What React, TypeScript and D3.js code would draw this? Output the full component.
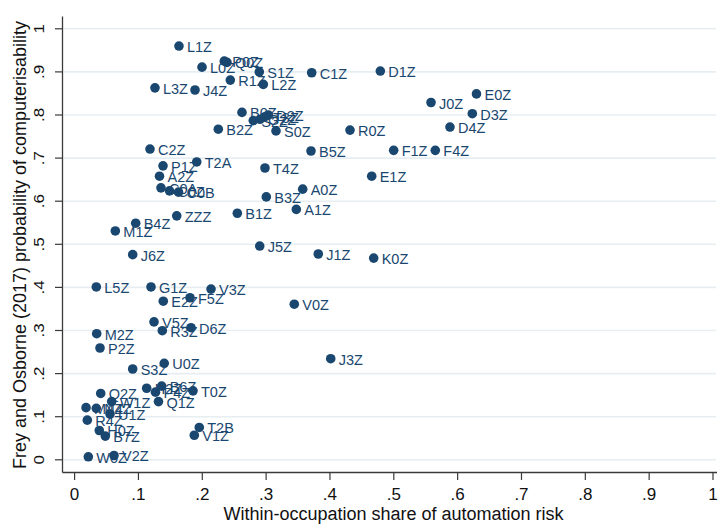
import React from "react";
import * as d3 from "d3";

const labels = [
  "L1Z","P0Z","Q0Z","L0Z","S1Z","C1Z","D1Z","R1Z","L2Z","L3Z","J4Z","E0Z","J0Z","D3Z","B0Z",
  "S2Z","G2Z","T3Z","D2Z","D4Z","B2Z","S0Z","R0Z","C2Z","B5Z","F1Z","F4Z","T2A","P1Z","T4Z",
  "E1Z","A2Z","C0A","C0Z","C0B","A0Z","B3Z","A1Z","B1Z","ZZZ","B4Z","M1Z","J5Z","J6Z","J1Z",
  "K0Z","L5Z","G1Z","V3Z","F5Z","E2Z","V0Z","V5Z","D6Z","R3Z","M2Z","P2Z","J3Z","U0Z","S3Z",
  "H2Z","B6Z","P4Z","T0Z","Q1Z","Q2Z","W1Z","M4Z","N4Z","U1Z","R4Z","H0Z","B7Z","T2B","V1Z",
  "W0Z","V2Z"
];
const xs = [
  0.1635,0.2345,0.2387,0.1996,0.2893,0.3714,0.4789,0.2439,0.2956,0.1259,0.1886,0.6295,0.5583,0.623,0.2622,
  0.2799,0.2904,0.2982,0.3034,0.588,0.2251,0.3155,0.4314,0.1181,0.3703,0.4998,0.565,0.1913,0.1385,0.2982,
  0.4654,0.133,0.1353,0.1487,0.1628,0.3573,0.3003,0.3473,0.2549,0.16,0.0957,0.0638,0.29,0.091,0.3817,
  0.4685,0.034,0.1197,0.2137,0.1808,0.1389,0.3441,0.1244,0.1823,0.1374,0.0346,0.0398,0.4012,0.1404,0.091,
  0.1129,0.1364,0.1267,0.1855,0.1314,0.0409,0.0581,0.0179,0.034,0.0555,0.0199,0.0387,0.0481,0.1953,0.1875,
  0.0215,0.0617
];
const ys = [
  0.960,0.925,0.922,0.911,0.900,0.898,0.902,0.881,0.871,0.863,0.858,0.849,0.829,0.803,0.806,
  0.787,0.790,0.796,0.800,0.772,0.767,0.763,0.765,0.721,0.7165,0.718,0.718,0.691,0.682,0.677,
  0.658,0.658,0.631,0.624,0.621,0.628,0.610,0.581,0.572,0.566,0.549,0.531,0.496,0.476,0.4775,
  0.468,0.401,0.401,0.396,0.376,0.368,0.361,0.320,0.3065,0.2995,0.2926,0.2594,0.2346,0.2239,0.2107,
  0.166,0.171,0.157,0.160,0.135,0.154,0.135,0.121,0.1195,0.106,0.092,0.068,0.055,0.075,0.057,
  0.007,0.010
];
const xTicks = [0, 0.1, 0.2, 0.3, 0.4, 0.5, 0.6, 0.7, 0.8, 0.9, 1];
const xTickLabels = ["0", ".1", ".2", ".3", ".4", ".5", ".6", ".7", ".8", ".9", "1"];
const yTicks = [0, 0.1, 0.2, 0.3, 0.4, 0.5, 0.6, 0.7, 0.8, 0.9, 1];
const yTickLabels = ["0", ".1", ".2", ".3", ".4", ".5", ".6", ".7", ".8", ".9", "1"];

const W = 718, H = 526;
const NAVY = "#1a476f";
const FONT = "'Liberation Sans', Arial, Helvetica, sans-serif";

export default function App() {
  const x = d3.scaleLinear().domain([0, 1]).range([74.6, 713]);
  const y = d3.scaleLinear().domain([0, 1]).range([459.8, 28.8]);
  const axisX = 62.5, axisY = 472.5;
  const pts = labels.map((l, i) => ({ l, cx: x(xs[i]), cy: y(ys[i]) }));
  return (
    <svg width={W} height={H} style={{ position: "absolute", left: 0, top: 0, background: "#fff" }} fontFamily={FONT}>
      <rect x={0} y={0} width={W} height={H} fill="#fff" />
      {yTicks.map((t, i) => (
        <line key={"g" + i} x1={axisX + 1} x2={716} y1={y(t)} y2={y(t)} stroke="#e6eef2" strokeWidth={1.6} />
      ))}
      <line x1={axisX} x2={axisX} y1={16.5} y2={axisY} stroke="#3a3a3a" strokeWidth={1.3} />
      <line x1={axisX} x2={717} y1={axisY} y2={axisY} stroke="#3a3a3a" strokeWidth={1.3} />
      {yTicks.map((t, i) => (
        <g key={"yt" + i}>
          <line x1={axisX - 7.5} x2={axisX} y1={y(t)} y2={y(t)} stroke="#3a3a3a" strokeWidth={1.2} />
          <text transform={`translate(44,${y(t)}) rotate(-90) scale(1,0.85)`} textAnchor="middle" fontSize={17} fill="#111">
            {yTickLabels[i]}
          </text>
        </g>
      ))}
      {xTicks.map((t, i) => (
        <g key={"xt" + i}>
          <line x1={x(t)} x2={x(t)} y1={axisY} y2={axisY + 7.5} stroke="#3a3a3a" strokeWidth={1.2} />
          <text x={x(t)} y={499.5} textAnchor="middle" fontSize={17} fill="#111">
            {xTickLabels[i]}
          </text>
        </g>
      ))}
      <text x={393.5} y={519.5} textAnchor="middle" fontSize={18} fill="#111">
        Within-occupation share of automation risk
      </text>
      <text transform={`translate(26,245) rotate(-90)`} textAnchor="middle" fontSize={18} fill="#111">
        Frey and Osborne (2017) probability of computerisability
      </text>
      {pts.map((p, i) => (
        <text key={"l" + i} x={p.cx + 8} y={p.cy + 6} fontSize={14.5} fill={NAVY}>
          {p.l}
        </text>
      ))}
      {pts.map((p, i) => (
        <circle key={"c" + i} cx={p.cx} cy={p.cy} r={4.8} fill={NAVY} />
      ))}
    </svg>
  );
}
